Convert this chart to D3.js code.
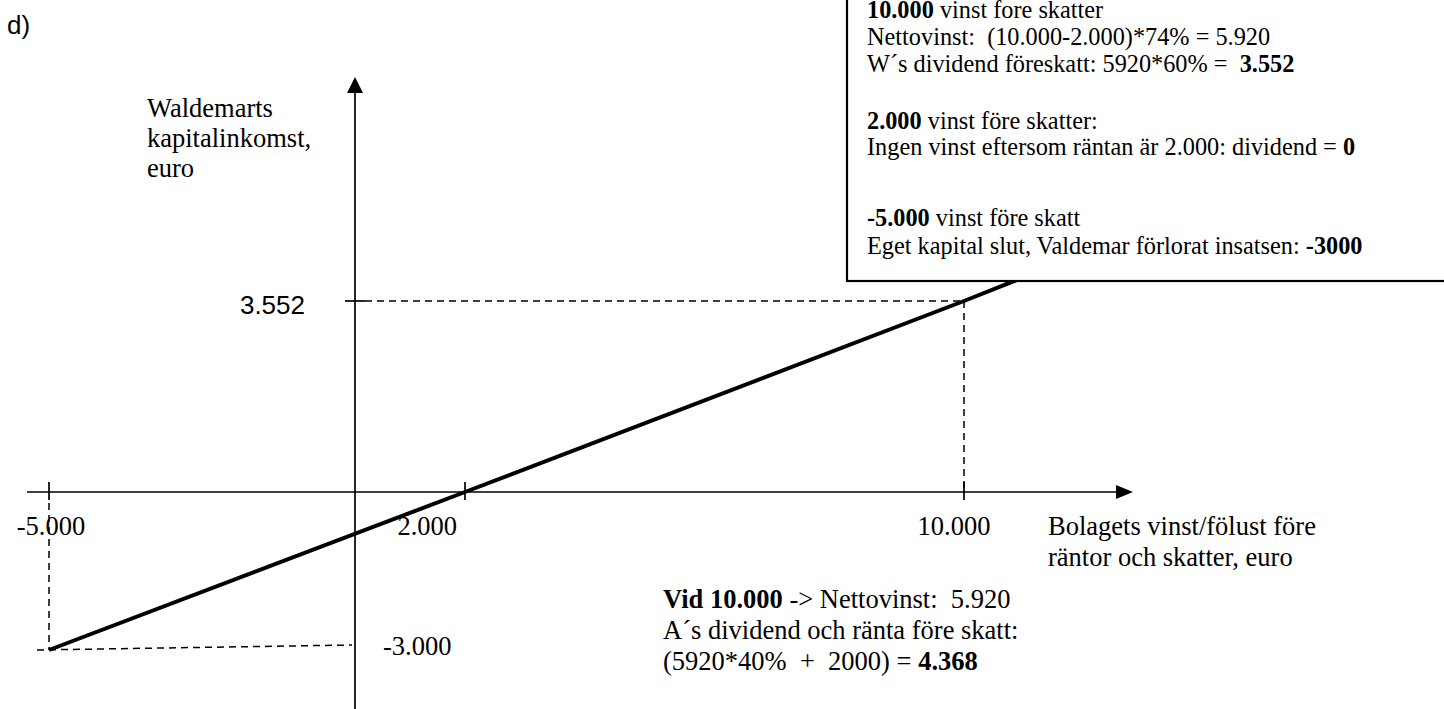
<!DOCTYPE html>
<html><head><meta charset="utf-8">
<script src="https://cdn.jsdelivr.net/npm/d3@7"></script>
<style>
body{margin:0;background:#fff}
svg{display:block}
text{white-space:pre}
</style>
</head><body>
<svg id="c" width="1444" height="709"></svg>
<script>
// ---------- data ----------
const incomeX = [-5000, 2000, 10000, 11100];
const incomeY = [-3000, 0, 3552, 4060];
const xTickValues = [-5000, 2000, 10000];
const xTickLabels = ["-5.000", "2.000", "10.000"];
const yTickValues = [3552, -3000];
const yTickLabels = ["3.552", "-3.000"];
const xAxisTitle = ["Bolagets vinst/fölust före", "räntor och skatter, euro"];
const yAxisTitle = ["Waldemarts", "kapitalinkomst,", "euro"];
const boxLines = [
  [{t:"10.000", b:true}, {t:" vinst fore skatter"}],
  [{t:"Nettovinst:  (10.000-2.000)*74% = 5.920"}],
  [{t:"W´s dividend föreskatt: 5920*60% =  "}, {t:"3.552", b:true}],
  [{t:"2.000", b:true}, {t:" vinst före skatter:"}],
  [{t:"Ingen vinst eftersom räntan är 2.000: dividend = "}, {t:"0", b:true}],
  [{t:"-5.000", b:true}, {t:" vinst före skatt"}],
  [{t:"Eget kapital slut, Valdemar förlorat insatsen: "}, {t:"-3000", b:true}]
];
const noteLines = [
  [{t:"Vid 10.000", b:true}, {t:" -> Nettovinst:  5.920"}],
  [{t:"A´s dividend och ränta före skatt:"}],
  [{t:"(5920*40%  +  2000) = "}, {t:"4.368", b:true}]
];

// ---------- layout ----------
const SERIF = "'Liberation Serif','Times New Roman',serif";
const SANS = "'Liberation Sans',Arial,sans-serif";
const boxBaselines = [18, 45, 72, 129, 155, 226, 254];
const noteBaselines = [608, 639, 670];
const xLabelLayout = [{dx: 2, anchor: "middle"}, {dx: -8, anchor: "end"}, {dx: -10, anchor: "middle"}];

const svg = d3.select("#c");
const x = d3.scaleLinear().domain([-5000, 0, 2000, 10000]).range([49, 355, 465, 964]);
const y = d3.scaleLinear().domain([-3000, 0, 3552]).range([650, 492, 301]);
const x0 = x(0), y0 = y(0);

const guides = svg.append("g").attr("stroke", "#000").attr("stroke-width", 1.5).attr("stroke-dasharray", "7,5").attr("fill", "none");
// vertical guide at -5000
guides.append("line").attr("x1", x(-5000)).attr("x2", x(-5000)).attr("y1", y0 + 11).attr("y2", y(-3000));
// horizontal guide at -3000
guides.append("line").attr("x1", x(-5000) - 12).attr("x2", x0 - 3).attr("y1", y(-3000)).attr("y2", y(-3000) - 5);
// horizontal guide at 3552
guides.append("line").attr("x1", x0 + 10).attr("x2", x(10000)).attr("y1", y(3552)).attr("y2", y(3552));
// vertical guide at 10000
guides.append("line").attr("x1", x(10000)).attr("x2", x(10000)).attr("y1", y(3552)).attr("y2", y0);

// axes
const ax = svg.append("g").attr("stroke", "#000").attr("stroke-width", 1.7);
ax.append("line").attr("x1", 27).attr("x2", 1117).attr("y1", y0).attr("y2", y0);
ax.append("line").attr("x1", x0).attr("x2", x0).attr("y1", 92).attr("y2", 709);
svg.append("path").attr("d", `M${x0},77 L${x0-8},93 L${x0+8},93 Z`).attr("fill", "#000");
svg.append("path").attr("d", `M1133,${y0} L1116,${y0-7} L1116,${y0+7} Z`).attr("fill", "#000");

// x ticks
ax.selectAll("line.xt").data(xTickValues).join("line").attr("class", "xt")
  .attr("x1", d => x(d)).attr("x2", d => x(d)).attr("y1", y0 - 10).attr("y2", y0 + 8);
// y tick at 3552
ax.selectAll("line.yt").data(yTickValues.slice(0, 1)).join("line").attr("class", "yt")
  .attr("x1", x0 - 10).attr("x2", x0 + 10).attr("y1", d => y(d)).attr("y2", d => y(d));

// income line
const pts = incomeX.map((v, i) => [v, incomeY[i]]);
svg.append("path").datum(pts)
  .attr("d", d3.line().x(d => x(d[0])).y(d => y(d[1])))
  .attr("fill", "none").attr("stroke", "#000").attr("stroke-width", 4);

// x tick labels
svg.selectAll("text.xl").data(xTickValues).join("text").attr("class", "xl")
  .attr("x", (d, i) => x(d) + xLabelLayout[i].dx).attr("y", y0 + 43)
  .attr("text-anchor", (d, i) => xLabelLayout[i].anchor)
  .attr("font-family", SERIF).attr("font-size", 26.5)
  .text((d, i) => xTickLabels[i]);

// y tick labels
svg.append("text").attr("x", 305).attr("y", y(yTickValues[0]) + 13).attr("text-anchor", "end")
  .attr("font-family", SANS).attr("font-size", 26).text(yTickLabels[0]);
svg.append("text").attr("x", 383).attr("y", y(yTickValues[1]) + 5)
  .attr("font-family", SERIF).attr("font-size", 26.5).text(yTickLabels[1]);

// axis titles
svg.selectAll("text.yat").data(yAxisTitle).join("text").attr("class", "yat")
  .attr("x", 147).attr("y", (d, i) => 117 + i * 30)
  .attr("font-family", SERIF).attr("font-size", 26.5).text(d => d);
svg.selectAll("text.xat").data(xAxisTitle).join("text").attr("class", "xat")
  .attr("x", 1048).attr("y", (d, i) => 535 + i * 31)
  .attr("font-family", SERIF).attr("font-size", 26.5).text(d => d);

// "d)"
svg.append("text").attr("x", 7).attr("y", 34).attr("font-family", SANS).attr("font-size", 26).text("d)");

// box
svg.append("rect").attr("x", 847).attr("y", -5).attr("width", 640).attr("height", 286)
  .attr("fill", "#fff").attr("stroke", "#000").attr("stroke-width", 2.2);

function richText(lines, baselines, x0, size) {
  lines.forEach((segs, i) => {
    const t = svg.append("text").attr("x", x0).attr("y", baselines[i])
      .attr("font-family", SERIF).attr("font-size", size);
    segs.forEach(s => t.append("tspan").attr("font-weight", s.b ? "bold" : "normal").text(s.t));
  });
}
richText(boxLines, boxBaselines, 867, 24.3);
richText(noteLines, noteBaselines, 663, 26.5);
</script>
</body></html>
